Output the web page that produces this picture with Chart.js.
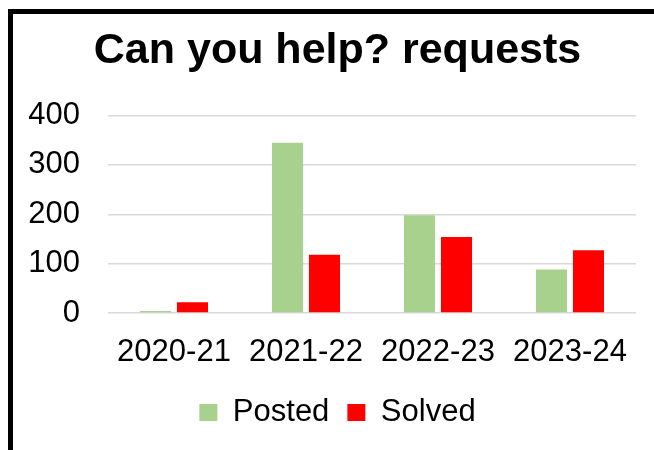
<!DOCTYPE html>
<html>
<head>
<meta charset="utf-8">
<script src="https://cdn.jsdelivr.net/npm/chart.js@4.4.0/dist/chart.umd.min.js"></script>
<style>
  html, body { margin: 0; padding: 0; background: #fff; overflow: hidden; }
  #marco {
    position: absolute; left: 8px; top: 9px; width: 800px; height: 600px;
    border-left: 5px solid #000; border-top: 5px solid #000;
  }
  #contenedor { position: absolute; left: 0; top: 0; width: 654px; height: 450px; }
</style>
</head>
<body>
<div id="marco"></div>
<div id="contenedor"><canvas id="grafica"></canvas></div>
<script>
const categorias = ["2020-21", "2021-22", "2022-23", "2023-24"];
const publicadas = [4, 345, 198, 88];
const resueltas = [22, 118, 154, 127];
const marcasY = [0, 100, 200, 300, 400];

const fuente = "'Liberation Sans', Arial, sans-serif";
const textoNegro = { color: '#000', font: { family: fuente, size: 31 } };

// Centra título y leyenda igual que en la imagen (desplazados a la derecha)
const centrarBloques = {
  id: 'centrarBloques',
  afterLayout(chart) {
    if (chart.titleBlock) chart.titleBlock.left = 39;
    if (chart.legend) chart.legend.left = 39;
  }
};

const ctx = document.getElementById("grafica").getContext("2d");
new Chart(ctx, {
  type: "bar",
  data: {
    labels: categorias,
    datasets: [
      {
        label: "Posted",
        data: publicadas,
        backgroundColor: "#a9d18e",
        categoryPercentage: 0.56,
        barPercentage: 0.84
      },
      {
        label: "Solved",
        data: resueltas,
        backgroundColor: "#ff0000",
        categoryPercentage: 0.56,
        barPercentage: 0.84
      }
    ]
  },
  options: {
    responsive: true,
    maintainAspectRatio: false,
    animation: false,
    layout: { padding: { left: 0, right: 18, top: 0, bottom: 12 } },
    plugins: {
      title: {
        display: true,
        text: "Can you help? requests",
        color: '#000',
        font: { family: fuente, size: 43, weight: 'bold' },
        padding: { top: 25, bottom: 39 }
      },
      legend: {
        position: 'bottom',
        labels: {
          color: '#000',
          font: { family: fuente, size: 31 },
          boxWidth: 18,
          boxHeight: 17,
          padding: 18
        }
      },
      tooltip: { enabled: false }
    },
    scales: {
      x: {
        grid: { display: false, drawTicks: false },
        border: { display: false },
        ticks: { ...textoNegro, padding: 21, maxRotation: 0 },
        afterFit: s => { s.height = 66; }
      },
      y: {
        min: 0,
        max: 400,
        afterBuildTicks: s => { s.ticks = marcasY.map(v => ({ value: v })); },
        grid: { color: '#d9d9d9', lineWidth: 1.5, drawTicks: false },
        border: { display: false },
        ticks: { ...textoNegro, padding: 28 },
        afterFit: s => { s.width = 108; }
      }
    }
  },
  plugins: [centrarBloques]
});
</script>
</body>
</html>
